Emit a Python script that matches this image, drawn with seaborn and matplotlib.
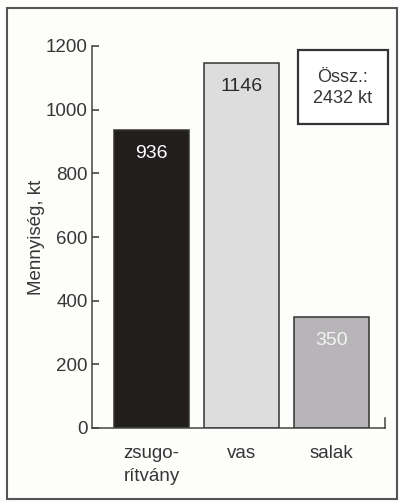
import matplotlib
matplotlib.use("Agg")
import matplotlib.pyplot as plt
from matplotlib.patches import Rectangle
import seaborn as sns
import pandas as pd

categories = ["zsugo-\nrítvány", "vas", "salak"]
values = [936, 1146, 350]
bar_colors = ["#221e1e", "#dedddd", "#b7b5b7"]
label_colors = ["#ffffff", "#2a2a2a", "#f4f4f4"]
yticks = [0, 200, 400, 600, 800, 1000, 1200]
total_text = "Össz.:\n2432 kt"
ylabel = "Mennyiség, kt"

sns.set_theme(style="white")
plt.rcParams["font.family"] = ["Liberation Sans", "DejaVu Sans"]

ink = "#363636"
bg = "#fdfdfb"

fig = plt.figure(figsize=(3.99, 5.03), dpi=100, facecolor=bg)
ax = fig.add_axes([92 / 399, 75 / 503, 293 / 399, 382 / 503])
ax.set_facecolor(bg)

df = pd.DataFrame({"kategoria": categories, "mennyiseg": values})
sns.barplot(data=df, x="kategoria", y="mennyiseg", hue="kategoria",
            palette=bar_colors, legend=False, width=0.83,
            edgecolor="#333333", linewidth=1.1, saturation=1, ax=ax)

ax.set_xlim(-0.66, 2.59)
ax.set_ylim(0, 1200)
ax.set_yticks(yticks)
ax.set_yticklabels([str(t) for t in yticks], fontsize=13.5, color=ink)
ax.tick_params(axis="y", direction="in", length=5, width=1.1, color=ink, pad=3, left=True)
ax.tick_params(axis="x", length=0, pad=12, labelsize=13.5, labelcolor=ink)
ax.set_xlabel("")
ax.set_ylabel(ylabel, fontsize=13.5, color=ink, labelpad=1)

ax.spines["top"].set_visible(False)
for side in ["left", "bottom", "right"]:
    ax.spines[side].set_color("#444444")
    ax.spines[side].set_linewidth(1.1)
ax.spines["right"].set_bounds(0, 30)

for lbl in ax.get_xticklabels():
    lbl.set_linespacing(1.5)
    lbl.set_va("top")

for i, (v, c) in enumerate(zip(values, label_colors)):
    ax.annotate(str(v), xy=(i, v), xytext=(0, -17), textcoords="offset points",
                ha="center", va="center", fontsize=14, color=c)

# total box in the upper right corner
fig.patches.append(Rectangle((298 / 399, 1 - 124 / 503), 90 / 399, 74 / 503,
                             transform=fig.transFigure, facecolor="white",
                             edgecolor="#333333", linewidth=1.6))
fig.text(343 / 399, 1 - 88 / 503, total_text, ha="center", va="center",
         fontsize=13, color=ink, linespacing=1.3)

# outer frame
fig.patches.append(Rectangle((7 / 399, 1 - 499 / 503), 390 / 399, 491 / 503,
                             transform=fig.transFigure, facecolor="none",
                             edgecolor="#555555", linewidth=1.5))

fig.savefig("out.png", dpi=100, facecolor=bg)
